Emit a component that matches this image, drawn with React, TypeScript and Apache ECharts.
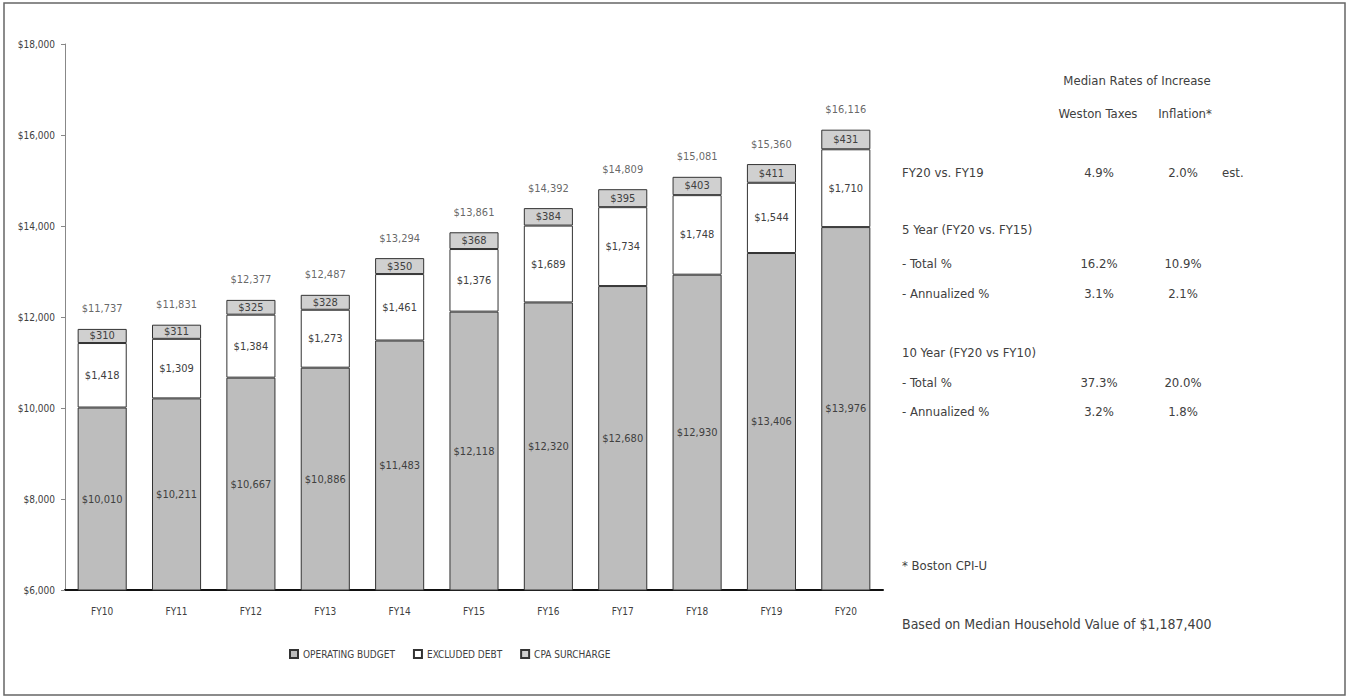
import React, { useEffect, useRef } from "react";
import * as echarts from "echarts";

const years = ["FY10", "FY11", "FY12", "FY13", "FY14", "FY15", "FY16", "FY17", "FY18", "FY19", "FY20"];
const operatingBudget = [10010, 10211, 10667, 10886, 11483, 12118, 12320, 12680, 12930, 13406, 13976];
const excludedDebt = [1418, 1309, 1384, 1273, 1461, 1376, 1689, 1734, 1748, 1544, 1710];
const cpaSurcharge = [310, 311, 325, 328, 350, 368, 384, 395, 403, 411, 431];
const totals = [11737, 11831, 12377, 12487, 13294, 13861, 14392, 14809, 15081, 15360, 16116];

const rateHeader = "Median Rates of Increase";
const rateColumns = ["Weston Taxes", "Inflation*"];
const rateRows: { label: string; taxes: string; inflation: string; note?: string; y: number }[] = [
  { label: "FY20 vs. FY19", taxes: "4.9%", inflation: "2.0%", note: "est.", y: 172 },
  { label: "5 Year (FY20 vs. FY15)", taxes: "", inflation: "", y: 229 },
  { label: "- Total %", taxes: "16.2%", inflation: "10.9%", y: 263 },
  { label: "- Annualized %", taxes: "3.1%", inflation: "2.1%", y: 293 },
  { label: "10 Year (FY20 vs FY10)", taxes: "", inflation: "", y: 352 },
  { label: "- Total %", taxes: "37.3%", inflation: "20.0%", y: 382 },
  { label: "- Annualized %", taxes: "3.2%", inflation: "1.8%", y: 411 },
];
const footnote = "* Boston CPI-U";
const basisNote = "Based on Median Household Value of $1,187,400";

const FONT = "'DejaVu Sans Condensed', 'Liberation Sans Narrow', 'Liberation Sans', sans-serif";
const TEXT = "#404040";

const money = (v: number) => "$" + v.toLocaleString("en-US");

export default function App() {
  const ref = useRef<HTMLDivElement>(null);

  useEffect(() => {
    if (!ref.current) return;
    const chart = echarts.init(ref.current, undefined, { renderer: "svg" });

    const txt = (text: string, x: number, y: number, align: "left" | "center" | "right" = "left", size = 13) => ({
      type: "text",
      x,
      y,
      style: {
        text,
        fill: TEXT,
        font: `${size}px ${FONT}`,
        textAlign: align,
        textVerticalAlign: "middle",
      },
    });

    const panel: any[] = [
      txt(rateHeader, 1137, 80, "center"),
      txt(rateColumns[0], 1098, 113, "center"),
      txt(rateColumns[1], 1185, 113, "center"),
    ];
    rateRows.forEach((r) => {
      panel.push(txt(r.label, 902, r.y));
      if (r.taxes) panel.push(txt(r.taxes, 1099, r.y, "center"));
      if (r.inflation) panel.push(txt(r.inflation, 1183, r.y, "center"));
      if (r.note) panel.push(txt(r.note, 1222, r.y));
    });
    panel.push(txt(footnote, 902, 565));
    panel.push(txt(basisNote, 902, 624, "left", 14));

    const barLabel = {
      show: true,
      position: "inside" as const,
      color: TEXT,
      fontSize: 11,
      fontFamily: FONT,
      formatter: (p: any) => money(p.value),
    };

    chart.setOption({
      animation: false,
      backgroundColor: "#ffffff",
      textStyle: { fontFamily: FONT, color: TEXT },
      grid: { left: 65, right: 467, top: 44, bottom: 108 },
      legend: {
        bottom: 34,
        left: 284,
        itemWidth: 8,
        itemHeight: 8,
        itemGap: 18,
        icon: "rect",
        textStyle: { fontSize: 10, color: TEXT, fontFamily: FONT },
        data: ["OPERATING BUDGET", "EXCLUDED DEBT", "CPA SURCHARGE"],
      },
      xAxis: {
        type: "category",
        data: years,
        axisLine: { lineStyle: { color: "#111", width: 2 } },
        axisTick: { show: false },
        axisLabel: { color: TEXT, fontSize: 10, margin: 16, fontFamily: FONT },
      },
      yAxis: {
        type: "value",
        min: 6000,
        max: 18000,
        interval: 2000,
        axisLine: { show: true, lineStyle: { color: "#888" } },
        axisTick: { show: true, length: 4, lineStyle: { color: "#888" } },
        splitLine: { show: false },
        axisLabel: { color: TEXT, fontSize: 10, margin: 10, fontFamily: FONT, formatter: (v: number) => money(v) },
      },
      series: [
        {
          name: "OPERATING BUDGET",
          type: "bar",
          stack: "tax",
          barCategoryGap: "34%",
          data: operatingBudget,
          itemStyle: { color: "#bdbdbd", borderColor: "#333", borderWidth: 1 },
          label: barLabel,
        },
        {
          name: "EXCLUDED DEBT",
          type: "bar",
          stack: "tax",
          data: excludedDebt,
          itemStyle: { color: "#ffffff", borderColor: "#333", borderWidth: 1 },
          label: barLabel,
        },
        {
          name: "CPA SURCHARGE",
          type: "bar",
          stack: "tax",
          data: cpaSurcharge,
          itemStyle: { color: "#d0d0d0", borderColor: "#333", borderWidth: 1 },
          label: barLabel,
        },
        {
          name: "Total",
          type: "scatter",
          data: totals,
          symbolSize: 1,
          itemStyle: { color: "rgba(0,0,0,0)" },
          label: {
            show: true,
            position: "top",
            distance: 14,
            color: TEXT,
            fontSize: 11,
            fontFamily: FONT,
            formatter: (p: any) => money(p.value),
          },
          tooltip: { show: false },
        },
      ],
      graphic: [
        {
          type: "rect",
          shape: { x: 4, y: 3, width: 1341, height: 692 },
          style: { fill: "none", stroke: "#666", lineWidth: 1.5 },
          silent: true,
        },
        ...panel,
      ],
    });

    return () => chart.dispose();
  }, []);

  return (
    <div
      ref={ref}
      style={{ position: "fixed", left: 0, top: 0, width: 1350, height: 698, background: "#fff" }}
    />
  );
}
